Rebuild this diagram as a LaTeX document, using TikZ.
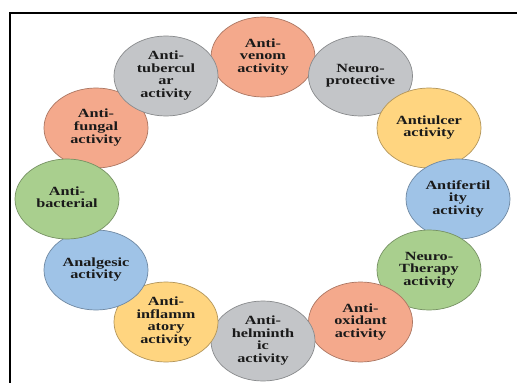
\documentclass[tikz,border=0pt]{standalone}
\usepackage{fontspec}
\setmainfont{Liberation Serif}
\usetikzlibrary{shapes.geometric}
\definecolor{corange}{HTML}{F4A98C}
\definecolor{cgrey}{HTML}{C3C5C8}
\definecolor{cyellow}{HTML}{FFD580}
\definecolor{cblue}{HTML}{9FC3E7}
\definecolor{cgreen}{HTML}{A9CF8E}
\definecolor{ctext}{HTML}{1A1A1A}
\tikzset{
  bub/.style={ellipse, minimum width=104pt, minimum height=80pt, inner sep=0pt,
     fill=#1, draw=#1!70!black, line width=0.7pt},
  lbl/.style={inner sep=0pt, text=ctext, font=\bfseries\fontsize{12.5}{12.5}\selectfont},
  frame/.style={line width=2pt, draw=black}
}
\newcommand{\wtxt}[1]{\scalebox{1.3}[1]{\begin{tabular}{@{}c@{}}#1\end{tabular}}}
\begin{document}
\begin{tikzpicture}[x=1pt,y=-1pt]
\useasboundingbox (0,0) rectangle (517,383);
\fill[white] (0,0) rectangle (517,383);
\coordinate (fbl) at (10,383);
\coordinate (ftl) at (10,12.5);
\coordinate (ftr) at (517,12.5);
\draw[frame] (fbl) -- (ftl) -- (ftr);
% ring: centre (263,199), a=195, b=142
\node[bub=corange] (venom) at (263,57) {};
\node[bub=cgrey]   (nprot) at (360.5,76) {};
\node[bub=cyellow] (ulcer) at (429,128) {};
\node[bub=cblue]   (fert)  at (458,199) {};
\node[bub=cgreen]  (ntherapy) at (429,270) {};
\node[bub=corange] (oxid)  at (360.5,322) {};
\node[bub=cgrey]   (helm)  at (263,341) {};
\node[bub=cyellow] (infl)  at (166,322) {};
\node[bub=cblue]   (analg) at (96,270) {};
\node[bub=corange] (fung)  at (96,128) {};
\node[bub=cgreen]  (bact)  at (67,199) {};
\node[bub=cgrey]   (tuber) at (166,76) {};
\node[lbl] at (venom) {\wtxt{Anti-\\venom\\activity}};
\node[lbl] at (nprot) {\wtxt{Neuro-\\protective}};
\node[lbl] at (ulcer) {\wtxt{Antiulcer\\activity}};
\node[lbl] at (fert) {\wtxt{Antifertil\\ity\\activity}};
\node[lbl] at (ntherapy) {\wtxt{Neuro-\\Therapy\\activity}};
\node[lbl] at (oxid) {\wtxt{Anti-\\oxidant\\activity}};
\node[lbl] at (helm) {\wtxt{Anti-\\helminth\\ic\\activity}};
\node[lbl] at (infl) {\wtxt{Anti-\\inflamm\\atory\\activity}};
\node[lbl] at (analg) {\wtxt{Analgesic\\activity}};
\node[lbl] at (bact) {\wtxt{Anti-\\bacterial}};
\node[lbl] at (fung) {\wtxt{Anti-\\fungal\\activity}};
\node[lbl] at (tuber) {\wtxt{Anti-\\tubercul\\ar\\activity}};
\end{tikzpicture}
\end{document}
